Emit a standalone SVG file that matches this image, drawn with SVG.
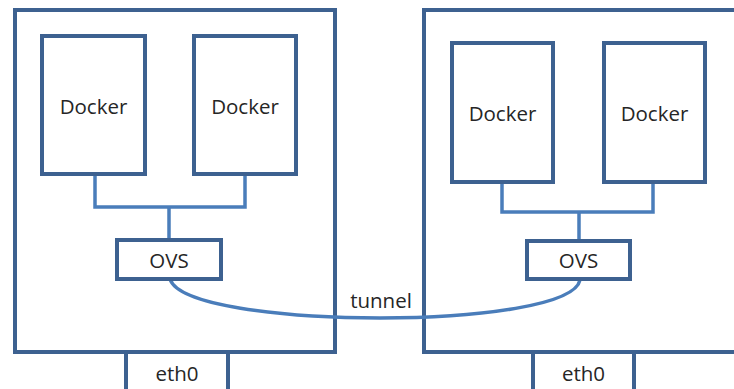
<svg xmlns="http://www.w3.org/2000/svg" width="734" height="389" viewBox="0 0 734 389">
<style>
.box{fill:#fff;stroke:#3d6190;stroke-width:4}
.host{fill:none;stroke:#3d6190;stroke-width:4}
.link{fill:none;stroke:#4a7dba;stroke-width:3.5}
.lbl{font-family:"Open Sans","Liberation Sans",sans-serif;font-size:20.5px;fill:#262626;text-anchor:middle;dominant-baseline:central}
</style>
<rect width="734" height="389" fill="#fff"/>
<g id="host-left"><rect class="host" x="15" y="10" width="320" height="342"/></g>
<g id="host-right"><rect class="host" x="424" y="10" width="330" height="342"/></g>
<g id="connectors">
<path class="link" d="M95,174 V207 H245 V174 M169,207 V240"/>
<path class="link" d="M502,182 V212 H653 V182 M579,212 V241"/>
<path class="link" d="M170,279 C178,305 280,318 380,318 C480,318 575,305 580,280"/>
</g>
<g id="docker-l1"><rect class="box" x="42" y="36" width="103" height="138"/><text class="lbl" x="93.5" y="106">Docker</text></g>
<g id="docker-l2"><rect class="box" x="194" y="36" width="102" height="138"/><text class="lbl" x="245" y="106">Docker</text></g>
<g id="ovs-l"><rect class="box" x="117" y="240" width="104" height="39"/><text class="lbl" x="169" y="260">OVS</text></g>
<g id="eth0-l"><rect class="box" x="126" y="352" width="102" height="45"/><text class="lbl" x="177" y="373">eth0</text></g>
<g id="docker-r1"><rect class="box" x="452" y="43" width="101" height="139"/><text class="lbl" x="502.5" y="113">Docker</text></g>
<g id="docker-r2"><rect class="box" x="604" y="43" width="101" height="139"/><text class="lbl" x="654.5" y="113">Docker</text></g>
<g id="ovs-r"><rect class="box" x="527" y="241" width="103" height="38"/><text class="lbl" x="578.5" y="260">OVS</text></g>
<g id="eth0-r"><rect class="box" x="533" y="352" width="101" height="45"/><text class="lbl" x="583.5" y="373">eth0</text></g>
<g id="tunnel-label"><text class="lbl" x="381" y="300">tunnel</text></g>
</svg>
